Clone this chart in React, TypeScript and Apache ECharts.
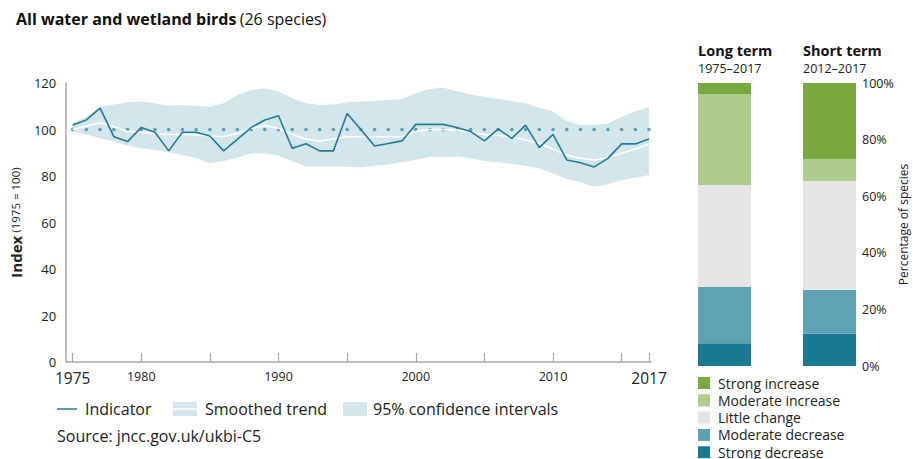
import { useEffect, useRef } from "react";
import * as echarts from "echarts";

const FONT = "'Open Sans', 'Noto Sans', sans-serif";

const years = [
  1975, 1976, 1977, 1978, 1979, 1980, 1981, 1982, 1983, 1984,
  1985, 1986, 1987, 1988, 1989, 1990, 1991, 1992, 1993, 1994,
  1995, 1996, 1997, 1998, 1999, 2000, 2001, 2002, 2003, 2004,
  2005, 2006, 2007, 2008, 2009, 2010, 2011, 2012, 2013, 2014,
  2015, 2016, 2017,
];

const indicator = [
  101.9, 104.1, 109.2, 96.9, 94.8, 100.9, 98.8, 90.8, 98.8, 98.8,
  97.2, 90.8, 95.8, 100.8, 104.1, 105.9, 91.9, 93.9, 90.8, 90.8,
  106.9, 100.0, 92.9, 94.0, 95.1, 102.2, 102.2, 102.2, 100.9, 99.1,
  95.1, 100.2, 96.2, 101.9, 92.2, 97.9, 86.9, 85.7, 83.9, 87.6,
  93.8, 93.8, 95.9,
];

const smoothed = [
  100.0, 101.5, 102.9, 101.2, 99.1, 98.8, 98.3, 97.9, 97.9, 97.6,
  97.2, 96.9, 98.3, 100.5, 101.6, 100.5, 97.9, 95.9, 95.1, 95.9,
  96.9, 96.9, 96.9, 96.9, 96.9, 99.1, 100.0, 100.0, 99.8, 98.8,
  97.9, 97.5, 96.8, 95.5, 94.1, 91.6, 89.0, 87.6, 86.9, 87.9,
  89.8, 91.6, 93.8,
];

const ciUpper = [
  102.6, 105.5, 109.8, 110.8, 111.7, 112.0, 111.3, 110.2, 110.5, 110.2,
  109.8, 111.3, 114.8, 117.0, 117.7, 116.3, 113.4, 111.3, 110.5, 110.8,
  111.7, 112.0, 112.3, 112.7, 113.1, 115.6, 117.4, 118.0, 116.6, 115.1,
  114.1, 113.1, 112.3, 111.3, 109.4, 107.7, 103.7, 101.9, 101.9, 102.6,
  105.5, 107.7, 109.8,
];

const ciLower = [
  99.4, 97.9, 96.2, 94.8, 93.0, 91.9, 91.2, 90.2, 89.0, 87.6,
  85.5, 86.5, 87.9, 89.8, 89.8, 88.7, 86.5, 84.0, 84.0, 84.0,
  84.0, 83.8, 84.4, 85.0, 85.9, 86.9, 88.3, 88.3, 88.3, 87.6,
  86.5, 85.9, 85.2, 84.4, 83.3, 81.1, 78.7, 77.3, 75.4, 76.4,
  78.3, 79.3, 80.4,
];

const baselineValue = 100;

const xTickYears = [1975, 1980, 1985, 1990, 1995, 2000, 2005, 2010, 2015, 2017];
const xLabelYears = [1975, 1980, 1990, 2000, 2010, 2017];
const xMajorLabels = [1975, 2017];

const trendCategories = [
  "Strong increase",
  "Moderate increase",
  "Little change",
  "Moderate decrease",
  "Strong decrease",
];
const longTermPct = [4, 32, 36, 20, 8];
const shortTermPct = [26.9, 7.7, 38.5, 15.4, 11.5];
const barColors = ["#79aa40", "#aecd8c", "#e6e6e6", "#5da2b5", "#1b7a91"];

const IND = "#237c94";
const BAND = "#d3e6eb";
const DOT = "#3f8fa3";
const AXIS = "#a9a9a9";
const TEXT = "#222";

export default function App() {
  const ref = useRef<HTMLDivElement>(null);

  useEffect(() => {
    const chart = echarts.init(ref.current!, null, { renderer: "svg" });

    const barSeries: any[] = [];
    for (let i = trendCategories.length - 1; i >= 0; i--) {
      barSeries.push({
        name: trendCategories[i],
        type: "bar",
        stack: "long",
        xAxisIndex: 1,
        yAxisIndex: 1,
        barWidth: "100%",
        itemStyle: { color: barColors[i] },
        data: [longTermPct[i]],
        silent: true,
      });
      barSeries.push({
        name: trendCategories[i],
        type: "bar",
        stack: "short",
        xAxisIndex: 2,
        yAxisIndex: 2,
        barWidth: "100%",
        itemStyle: { color: barColors[i] },
        data: [shortTermPct[i]],
        silent: true,
      });
    }

    const option: any = {
      animation: false,
      textStyle: { fontFamily: FONT, color: TEXT },
      grid: [
        { left: 60, top: 83, width: 591, height: 279 },
        { left: 698, top: 83, width: 53, height: 283 },
        { left: 803, top: 83, width: 53, height: 283 },
      ],
      xAxis: [
        {
          gridIndex: 0,
          type: "value",
          min: 1974.53,
          max: 2017.14,
          z: 5,
          axisLine: { lineStyle: { color: AXIS, width: 1.5 } },
          axisTick: {
            show: true,
            inside: true,
            length: 9,
            customValues: xTickYears,
            lineStyle: { color: AXIS, width: 1.2 },
          },
          axisLabel: {
            customValues: xLabelYears,
            margin: 8,
            color: TEXT,
            formatter: (v: number) =>
              xMajorLabels.includes(v) ? `{big|${v}}` : `{small|${v}}`,
            rich: {
              big: { fontSize: 15.5, fontFamily: FONT, color: TEXT },
              small: { fontSize: 12.5, fontFamily: FONT, color: TEXT },
            },
          },
          splitLine: { show: false },
        },
        { gridIndex: 1, type: "category", data: ["Long term"], show: false },
        { gridIndex: 2, type: "category", data: ["Short term"], show: false },
      ],
      yAxis: [
        {
          gridIndex: 0,
          type: "value",
          min: 0,
          max: 120,
          interval: 20,
          z: 5,
          axisLine: { show: true, lineStyle: { color: AXIS, width: 1.5 } },
          axisTick: { show: false },
          splitLine: { show: false },
          axisLabel: { fontSize: 13, color: TEXT, margin: 10, fontFamily: FONT },
          name: "{b|Index} {n|(1975 = 100)}",
          nameLocation: "middle",
          nameRotate: 90,
          nameGap: 34,
          nameTextStyle: {
            rich: {
              b: { fontSize: 15, fontWeight: "bold", fontFamily: FONT, color: TEXT },
              n: { fontSize: 11.5, fontFamily: FONT, color: TEXT },
            },
          },
        },
        { gridIndex: 1, type: "value", min: 0, max: 100, show: false },
        {
          gridIndex: 2,
          type: "value",
          min: 0,
          max: 100,
          interval: 20,
          position: "right",
          axisLine: { show: false },
          axisTick: { show: false },
          splitLine: { show: false },
          axisLabel: { formatter: "{value}%", margin: 6, fontSize: 12.5, color: TEXT, fontFamily: FONT },
          name: "Percentage of species",
          nameLocation: "middle",
          nameRotate: 90,
          nameGap: 40,
          nameTextStyle: { fontSize: 12, color: TEXT, fontFamily: FONT },
        },
      ],
      legend: {
        orient: "vertical",
        left: 698,
        top: 376,
        height: 120,
        padding: 0,
        itemWidth: 12,
        itemHeight: 12,
        itemGap: 3.3,
        icon: "rect",
        selectedMode: false,
        data: trendCategories,
        textStyle: { fontSize: 14, color: TEXT, fontFamily: FONT, padding: [0, 0, 0, 3] },
      },
      series: [
        {
          name: "95% confidence intervals",
          type: "custom",
          xAxisIndex: 0,
          yAxisIndex: 0,
          silent: true,
          data: years.map((y, i) => [y, ciLower[i], ciUpper[i]]),
          encode: { x: 0, y: [1, 2] },
          renderItem: (params: any, api: any) => {
            if (params.dataIndex !== 0) return { type: "group", children: [] };
            const pts: number[][] = [];
            for (let i = 0; i < years.length; i++) pts.push(api.coord([years[i], ciUpper[i]]));
            for (let i = years.length - 1; i >= 0; i--) pts.push(api.coord([years[i], ciLower[i]]));
            return { type: "polygon", shape: { points: pts }, style: { fill: BAND } };
          },
        },
        {
          name: "Baseline",
          type: "scatter",
          xAxisIndex: 0,
          yAxisIndex: 0,
          symbol: "circle",
          symbolSize: 3.6,
          silent: true,
          itemStyle: { color: DOT },
          data: years.map((y) => [y, baselineValue]),
        },
        {
          name: "Smoothed trend",
          type: "line",
          xAxisIndex: 0,
          yAxisIndex: 0,
          symbol: "none",
          silent: true,
          lineStyle: { color: "#ffffff", width: 1.5 },
          data: years.map((y, i) => [y, smoothed[i]]),
        },
        {
          name: "Indicator",
          type: "line",
          xAxisIndex: 0,
          yAxisIndex: 0,
          symbol: "none",
          silent: true,
          lineStyle: { color: IND, width: 1.6 },
          data: years.map((y, i) => [y, indicator[i]]),
        },
        ...barSeries,
      ],
      graphic: [
        {
          type: "text",
          left: 16,
          top: 11,
          style: {
            text: "{b|All water and wetland birds} {n|(26 species)}",
            rich: {
              b: { fontSize: 16, fontWeight: "bold", fontFamily: FONT, fill: "#111" },
              n: { fontSize: 16, fontFamily: FONT, fill: "#111" },
            },
          },
        },
        {
          type: "text",
          x: 698,
          y: 50,
          style: { text: "Long term", fontSize: 14.5, fontWeight: "bold", fontFamily: FONT, fill: "#111", verticalAlign: "middle" },
        },
        {
          type: "text",
          x: 698,
          y: 68,
          style: { text: "1975–2017", fontSize: 12.5, fontFamily: FONT, fill: TEXT, verticalAlign: "middle" },
        },
        {
          type: "text",
          x: 803,
          y: 50,
          style: { text: "Short term", fontSize: 14.5, fontWeight: "bold", fontFamily: FONT, fill: "#111", verticalAlign: "middle" },
        },
        {
          type: "text",
          x: 803,
          y: 68,
          style: { text: "2012–2017", fontSize: 12.5, fontFamily: FONT, fill: TEXT, verticalAlign: "middle" },
        },
        {
          type: "line",
          shape: { x1: 57, y1: 409, x2: 77, y2: 409 },
          style: { stroke: IND, lineWidth: 1.5 },
        },
        {
          type: "text",
          x: 85,
          y: 409,
          style: { text: "Indicator", fontSize: 16, fontFamily: FONT, fill: TEXT, verticalAlign: "middle" },
        },
        {
          type: "rect",
          shape: { x: 173, y: 402, width: 24, height: 14 },
          style: { fill: BAND },
        },
        {
          type: "line",
          shape: { x1: 173, y1: 409, x2: 197, y2: 409 },
          style: { stroke: "#ffffff", lineWidth: 1.5 },
        },
        {
          type: "text",
          x: 205,
          y: 409,
          style: { text: "Smoothed trend", fontSize: 16, fontFamily: FONT, fill: TEXT, verticalAlign: "middle" },
        },
        {
          type: "rect",
          shape: { x: 343, y: 402, width: 24, height: 14 },
          style: { fill: BAND },
        },
        {
          type: "text",
          x: 373,
          y: 409,
          style: { text: "95% confidence intervals", fontSize: 16, fontFamily: FONT, fill: TEXT, verticalAlign: "middle" },
        },
        {
          type: "text",
          x: 57,
          y: 436,
          style: { text: "Source: jncc.gov.uk/ukbi-C5", fontSize: 16, fontFamily: FONT, fill: TEXT, verticalAlign: "middle" },
        },
      ],
    };

    chart.setOption(option);
    return () => chart.dispose();
  }, []);

  return (
    <div
      ref={ref}
      style={{ position: "fixed", left: 0, top: 0, width: 913, height: 459, background: "#fff" }}
    />
  );
}
